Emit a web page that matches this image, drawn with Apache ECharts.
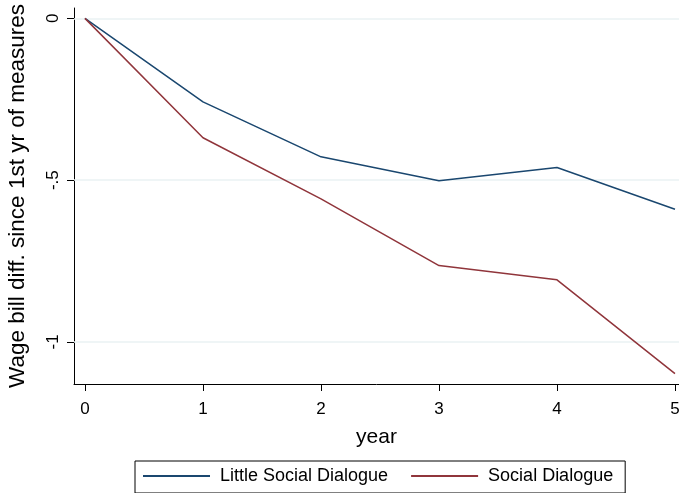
<!DOCTYPE html>
<html>
<head>
<meta charset="utf-8">
<script src="https://cdn.jsdelivr.net/npm/echarts@6/dist/echarts.min.js"></script>
<style>
html,body{margin:0;padding:0;background:#fff;}
#chart{width:679px;height:493px;}
</style>
</head>
<body>
<div id="chart"></div>
<script>
var years = [0, 1, 2, 3, 4, 5];
var littleSocial = [0, -0.258, -0.428, -0.502, -0.461, -0.590];
var social = [0, -0.369, -0.558, -0.764, -0.808, -1.098];
var yTickValues = [-1, -0.5, 0];
var yTickLabels = ['-1', '-.5', '0'];
var xTickValues = [0, 1, 2, 3, 4, 5];
var seriesNames = ['Little Social Dialogue', 'Social Dialogue'];

var chart = echarts.init(document.getElementById('chart'), null, {renderer: 'canvas'});
var font = 'Liberation Sans, Arial, sans-serif';
function pairs(xs, ys) { return xs.map(function (x, i) { return [x, ys[i]]; }); }

chart.setOption({
  animation: false,
  backgroundColor: '#ffffff',
  grid: {left: 74, top: 8, right: 0, bottom: 109, containLabel: false, outerBoundsMode: 'none'},
  legend: {
    data: seriesNames,
    left: 135, top: 461,
    padding: [6, 12, 8, 8],
    itemGap: 23,
    itemWidth: 67, itemHeight: 2,
    icon: 'rect',
    borderColor: '#000', borderWidth: 1,
    textStyle: {fontSize: 18, fontFamily: font, color: '#000', padding: [0, 0, 0, 5]}
  },
  xAxis: {
    type: 'value',
    min: -0.093, max: 5.034,
    name: 'year', nameLocation: 'middle', nameGap: 43,
    nameTextStyle: {fontSize: 21, fontFamily: font, color: '#000'},
    axisLine: {show: true, onZero: false, lineStyle: {color: '#000', width: 1}},
    axisTick: {show: true, length: 7, customValues: xTickValues, lineStyle: {color: '#000'}},
    axisLabel: {customValues: xTickValues, margin: 17, fontSize: 17, fontFamily: font, color: '#000', hideOverlap: false},
    splitLine: {show: false}
  },
  yAxis: {
    type: 'value',
    min: -1.13, max: 0.032,
    name: 'Wage bill diff. since 1st yr of measures', nameLocation: 'middle', nameGap: 45,
    nameTextStyle: {fontSize: 22.5, fontFamily: font, color: '#000'},
    axisLine: {show: true, onZero: false, lineStyle: {color: '#000', width: 1}},
    axisTick: {show: true, length: 7, customValues: yTickValues, lineStyle: {color: '#000'}},
    axisLabel: {
      customValues: yTickValues, rotate: 90, margin: 12, fontSize: 17, fontFamily: font, color: '#000',
      formatter: function (v) {
        var i = yTickValues.indexOf(v);
        return i >= 0 ? yTickLabels[i] : '';
      }
    },
    splitLine: {show: false}
  },
  series: [
    {
      type: 'line', name: '_grid', data: [], silent: true, z: 1,
      markLine: {
        silent: true, symbol: 'none', label: {show: false}, z: 1,
        lineStyle: {color: '#eaf2f3', width: 1.5, type: 'solid'},
        data: yTickValues.map(function (v) { return {yAxis: v}; })
      }
    },
    {
      type: 'line', name: seriesNames[0], data: pairs(years, littleSocial), z: 3,
      symbol: 'none', color: '#1a476f', lineStyle: {color: '#1a476f', width: 1.5}
    },
    {
      type: 'line', name: seriesNames[1], data: pairs(years, social), z: 3,
      symbol: 'none', color: '#90353b', lineStyle: {color: '#90353b', width: 1.5}
    }
  ]
});
</script>
</body>
</html>
